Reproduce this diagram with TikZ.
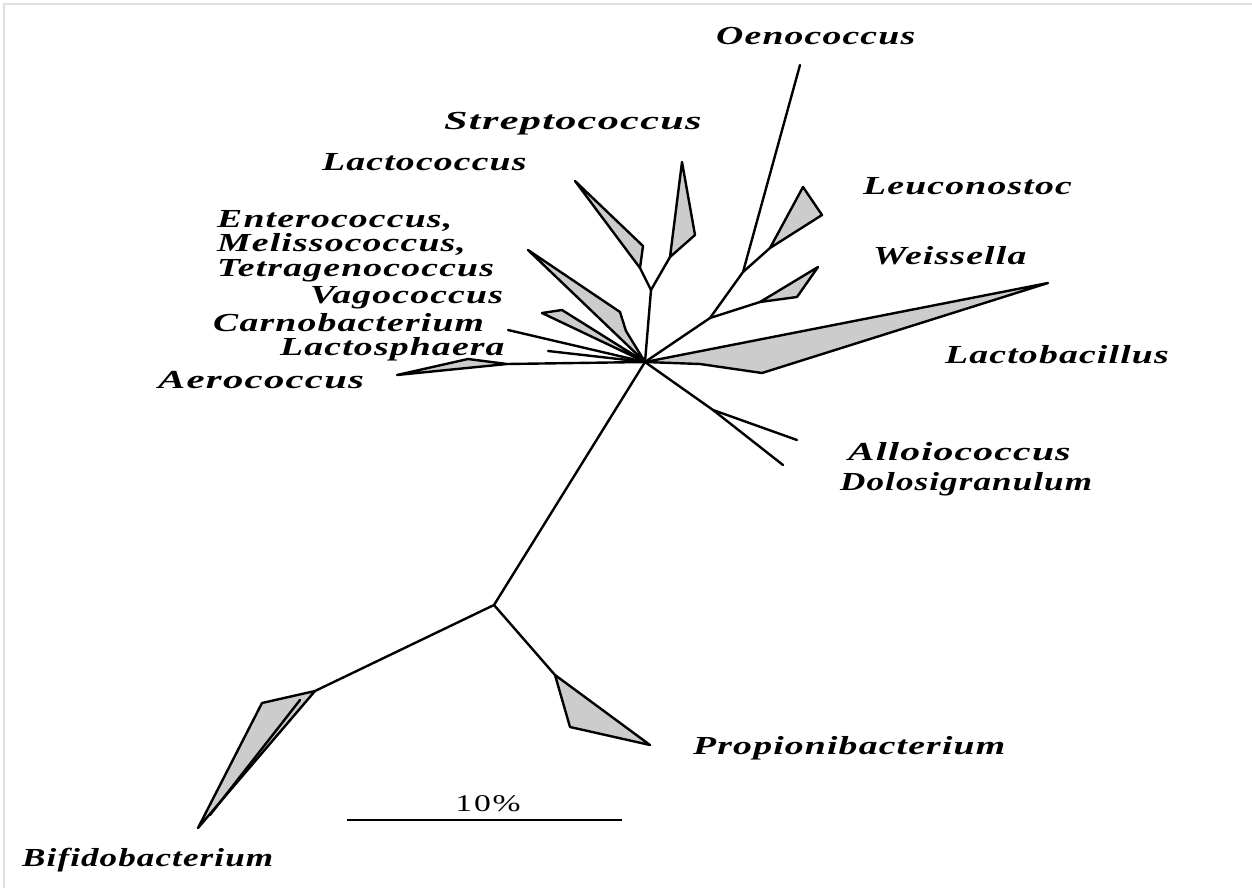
\documentclass[tikz,border=0pt]{standalone}
\usepackage{graphicx}
\usepackage{fontspec}
\setmainfont{Liberation Serif}
\newfontfamily\labfont[FakeStretch=1.45,LetterSpace=4.5]{Liberation Serif}
\newfontfamily\barfont[FakeStretch=1.4,LetterSpace=8]{Liberation Serif}
\begin{document}
\begin{tikzpicture}[x=1pt,y=-1pt,
  br/.style={line width=2.4pt,line join=round,line cap=round},
  clade/.style={br,fill=black!20},
  lab/.style={anchor=west,inner sep=0pt,font=\labfont\fontsize{26}{24.5}\selectfont\bfseries\itshape},
  frame/.style={draw=black!12,line width=1.5pt}]
\useasboundingbox (0,0) rectangle (1252,888);
\draw[frame] (4,888) -- (4,4) -- (1252,4);
% tree vertices
\coordinate (H) at (645,362);
\coordinate (B) at (494,605);
\coordinate (S) at (651,290);
\coordinate (W) at (710,318);
\coordinate (L) at (743,272);
\coordinate (D) at (713,410);
\coordinate (bif0) at (315,691);
\coordinate (pro0) at (555,675);
\coordinate (lcc0) at (640,268);
\coordinate (str0) at (670,257);
\coordinate (leu0) at (770,248);
\coordinate (wei0) at (760,302);
\coordinate (oen) at (800,65);
\coordinate (all) at (797,440);
\coordinate (dol) at (783,465);
\coordinate (aer0) at (507,364);
% clades
\draw[clade] (bif0) -- (262,703) -- (198,828) -- cycle;
\draw[br] (300,700) -- (210,815);
\draw[clade] (pro0) -- (570,727) -- (650,745) -- cycle;
\draw[clade] (lcc0) -- (575,181) -- (643,246) -- cycle;
\draw[clade] (str0) -- (682,162) -- (695,235) -- cycle;
\draw[clade] (leu0) -- (803,187) -- (822,215) -- cycle;
\draw[clade] (wei0) -- (818,267) -- (797,297) -- cycle;
\draw[clade] (H) -- (1048,283) -- (762,373) -- (700,364) -- cycle;
\draw[clade] (H) -- (528,250) -- (620,312) -- (626,331) -- cycle;
\draw[clade] (H) -- (542,313) -- (562,310) -- cycle;
\draw[clade] (aer0) -- (468,359) -- (397,375) -- cycle;
% branches
\draw[br] (H) -- (B);
\draw[br] (B) -- (bif0);
\draw[br] (B) -- (pro0);
\draw[br] (H) -- (S);
\draw[br] (S) -- (lcc0);
\draw[br] (S) -- (str0);
\draw[br] (H) -- (W);
\draw[br] (W) -- (L);
\draw[br] (L) -- (oen);
\draw[br] (L) -- (leu0);
\draw[br] (W) -- (wei0);
\draw[br] (H) -- (D);
\draw[br] (D) -- (all);
\draw[br] (D) -- (dol);
\draw[br] (H) -- (508,330);
\draw[br] (H) -- (548,351);
\draw[br] (H) -- (aer0);
% scale bar
\draw[line width=1.8pt] (347,820) -- (622,820);
\node[inner sep=0pt,font=\barfont\fontsize{24}{26}\selectfont] (pct) at (488,804) {10\%};
% labels
\node[lab] (l1) at (716,36) {Oenococcus};
\node[lab] (l2) at (444,124) {\scalebox{1.12}[1]{Streptococcus}};
\node[lab] (l3) at (322,162) {Lactococcus};
\node[lab] (l4) at (863,186) {Leuconostoc};
\node[lab,align=left] (l5) at (217,246) {Enterococcus,\\Melissococcus,\\Tetragenococcus};
\node[lab] (l8) at (873,256) {Weissella};
\node[lab] (l9) at (310,298) {Vagococcus};
\node[lab] (l10) at (213,323) {Carnobacterium};
\node[lab] (l11) at (280,349) {Lactosphaera};
\node[lab] (l12) at (158,380) {\scalebox{1.08}[1]{Aerococcus}};
\node[lab] (l13) at (945,355) {Lactobacillus};
\node[lab] (l14) at (848,452) {\scalebox{1.05}[1]{Alloiococcus}};
\node[lab] (l15) at (840,484) {\scalebox{0.93}[1]{Dolosigranulum}};
\node[lab] (l16) at (693,748) {Propionibacterium};
\node[lab] (l17) at (22,860) {\scalebox{0.93}[1]{Bifidobacterium}};
\end{tikzpicture}
\end{document}
